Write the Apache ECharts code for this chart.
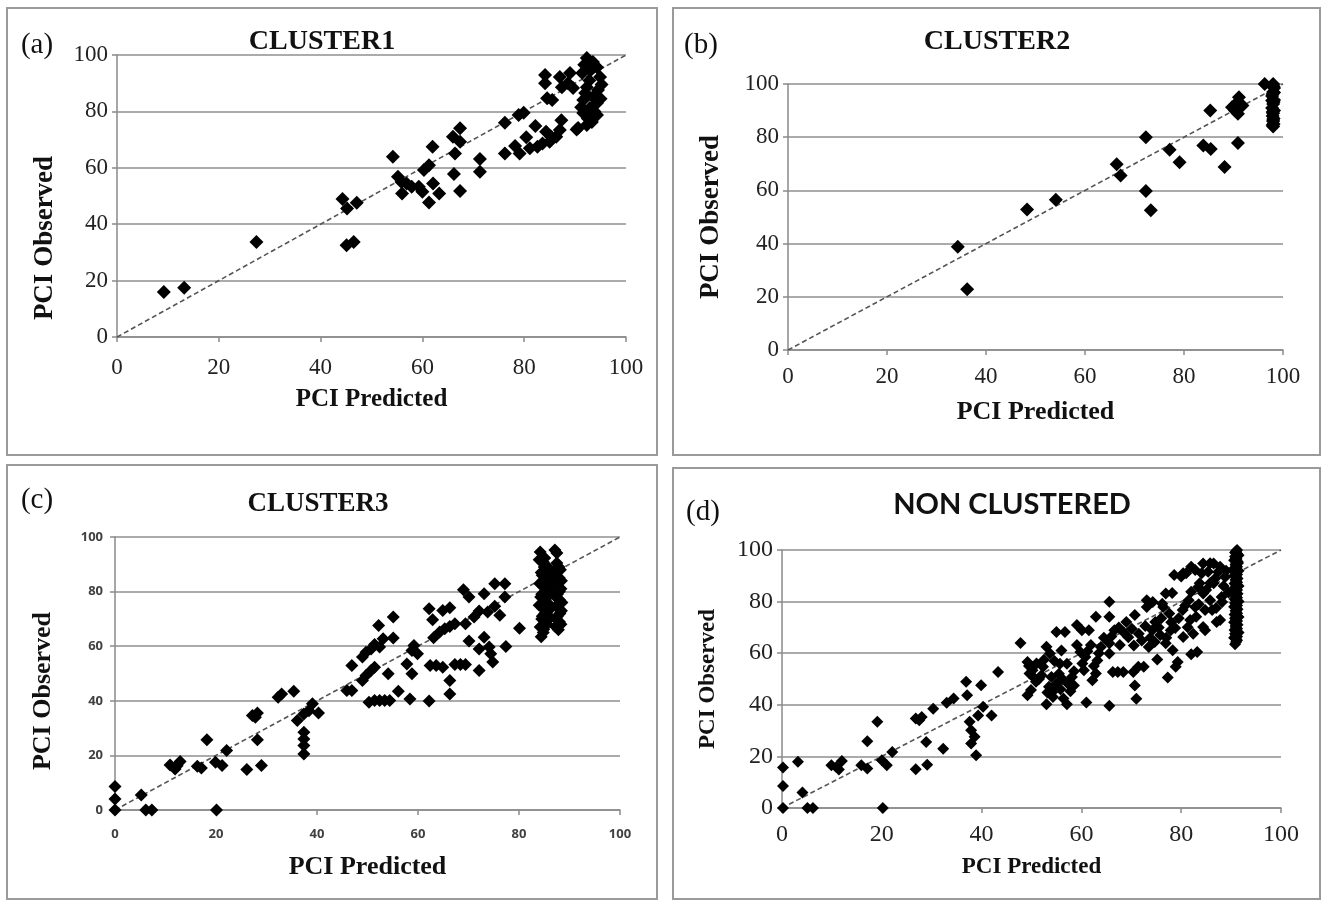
<!DOCTYPE html>
<html>
<head>
<meta charset="utf-8">
<script src="https://cdn.jsdelivr.net/npm/echarts@6/dist/echarts.min.js"></script>
<style>
html,body{margin:0;padding:0;background:#fff;}
#chart{width:1325px;height:902px;}
</style>
</head>
<body>
<div id="chart"></div>
<script>
// ---------------- data (PCI Predicted, PCI Observed) ----------------
const panelLabels = ['(a)', '(b)', '(c)', '(d)'];
const panelTitles = ['CLUSTER1', 'CLUSTER2', 'CLUSTER3', 'NON CLUSTERED'];
const xAxisName = 'PCI Predicted';
const yAxisName = 'PCI Observed';
const axisMin = 0, axisMax = 100, axisStep = 20;
const refLine = [[0, 0], [100, 100]];

const cluster1 = [
 [9.2,16.0],[13.2,17.5],[27.4,33.7],[44.3,48.9],[45.2,45.6],[47.1,47.6],[45.1,32.5],[46.5,33.7],
 [54.2,63.9],[55.2,56.8],[55.9,55.0],[56.0,50.9],[56.9,54.4],[57.9,53.3],[59.3,53.3],[60.0,51.5],
 [60.3,59.2],[61.3,60.9],[61.3,47.7],[62.1,54.4],[63.3,50.9],[62.0,67.5],
 [66.0,71.0],[66.4,65.1],[66.2,57.8],[67.4,74.0],[67.4,69.2],[67.4,51.8],[71.3,63.1],[71.3,58.6],
 [76.2,76.0],[76.2,65.1],[78.9,78.7],[79.9,79.5],[78.2,67.7],[79.1,65.1],[80.4,70.8],[81.1,66.9],
 [82.2,74.8],[82.6,67.5],[83.6,68.6],[84.3,72.8],[85.0,69.2],[85.3,71.0],[86.3,71.0],[87.0,73.4],
 [87.3,76.9],[90.3,73.6],
 [84.1,92.9],[84.1,90.0],[84.5,84.7],[85.5,84.0],[87.0,92.2],[87.4,88.6],[89.0,93.6],[88.6,90.0],[89.6,88.3],
 [92.3,98.9],[93.5,97.5],[94.3,95.7],[94.9,92.2],[91.4,93.6],[92.3,88.6],[94.5,87.6],[91.6,84.0],
 [94.3,83.0],[91.6,79.4],[94.3,78.7],[92.3,75.2],[93.3,76.2],[90.6,74.1],[92.9,81.2],[93.5,85.1],
 [92.8,91.0],[93.0,94.5],[91.8,96.5],[95.2,89.5],[92.0,86.5],[93.8,80.0],[92.5,77.5],[91.2,81.5],[95.0,84.5]
];

const cluster2 = [
 [34.3,38.8],[36.2,22.8],[48.3,52.8],[54.1,56.5],[66.4,69.8],[67.2,65.6],[72.3,80.0],[72.3,59.8],
 [73.3,52.5],[77.1,75.3],[79.1,70.6],[83.9,76.9],[85.4,75.6],[85.3,90.0],[88.2,68.8],[90.9,77.8],
 [89.7,91.3],[90.8,93.1],[91.1,95.0],[90.9,88.8],[91.8,91.9],[90.3,90.0],[96.3,100],
 [98.0,100],[98.2,98.5],[98.0,97.0],[97.8,95.5],[98.2,94.0],[98.0,92.5],[97.8,91.0],[98.2,90.0],
 [98.0,89.0],[97.9,88.0],[98.1,87.0],[98.0,86.0],[98.1,85.0],[98.0,84.0],
 [98.1,99.2],[97.9,96.2],[98.1,93.2],[97.9,89.5],[98.0,86.5],[97.9,84.6],[98.2,96.8],[97.8,93.8]
];

const cluster3 = [
 [0,8.6],[0,4.0],[0,0],[5.2,5.5],[6.1,0],[7.3,0],
 [10.9,16.5],[11.9,15.0],[12.9,17.8],[12.3,16.2],[16.3,16.0],[17.1,15.4],[18.2,25.7],[20.1,0],
 [19.9,17.5],[21.2,16.3],[22.1,21.8],
 [26.1,14.8],[27.2,34.6],[28.2,35.5],[27.8,34.0],[28.2,25.7],[29.0,16.3],
 [32.3,41.3],[33.0,42.5],[35.4,43.5],[36.1,32.8],[37.4,35.2],[37.4,28.5],[37.4,26.0],[37.4,23.6],
 [37.4,20.5],[38.4,36.4],[39.1,38.9],[40.3,35.5],
 [45.9,43.8],[46.9,43.8],[46.9,52.9],[49.0,56.0],[49.7,57.8],[50.7,59.0],[51.4,60.6],[52.2,67.6],
 [52.4,59.7],[53.1,62.7],[55.1,70.7],[55.1,63.0],
 [49.0,47.4],[49.7,49.3],[50.7,51.1],[51.4,52.3],[50.3,39.5],[51.4,40.1],[52.4,40.1],[53.4,40.1],
 [54.4,40.1],[54.1,49.9],[56.1,43.5],[58.4,40.7],
 [57.8,53.5],[58.8,58.4],[58.8,49.9],[59.2,60.3],[59.9,57.2],[62.2,73.7],[62.9,69.7],[63.1,63.1],
 [62.2,39.9],[62.4,52.9],[63.6,52.9],[64.9,52.3],[64.9,73.1],[66.3,74.1],[64.3,65.2],[65.3,66.4],
 [66.3,67.2],[67.3,68.2],[66.3,47.4],[66.3,42.5],[67.3,53.3],[68.4,53.3],[69.4,53.3],
 [69.0,80.7],[70.1,78.0],[69.4,68.2],[70.1,61.9],[71.1,70.7],[72.1,72.9],[72.1,59.0],[72.1,51.1],
 [73.1,79.2],[73.1,63.3],[73.8,72.5],[74.1,59.7],[74.4,57.2],[74.8,54.2],[75.2,82.9],[75.2,74.6],
 [76.2,71.3],[77.2,82.9],[77.2,78.0],[77.4,59.9],[80.1,66.6],
 [84.2,94.5],[85.1,92.3],[87.1,95.2],[87.5,94.1],[84.8,90.8],[84.0,91.7],
 [84.4,87.0],[85.6,85.0],[84.1,83.0],[85.9,81.0],[84.5,79.0],[85.2,77.0],[84.0,75.0],[85.8,73.0],
 [84.6,71.0],[85.3,69.0],[84.2,67.0],[84.8,65.0],[84.4,63.5],[86.0,88.5],
 [87.5,90.5],[88.2,88.0],[87.2,86.0],[88.4,84.0],[87.6,82.0],[88.0,80.0],[87.3,78.0],[88.5,76.0],
 [87.7,74.0],[88.1,72.0],[87.4,70.0],[88.3,68.0],[87.8,66.0],
 [85.0,89.0],[84.6,86.0],[85.4,84.0],[84.8,82.0],[85.5,80.0],[84.3,78.0],[85.6,76.0],[84.7,74.0],
 [85.1,72.0],[84.5,70.0],[85.5,68.0],[84.9,66.2],[86.2,84.5],[86.3,79.5],[86.1,74.5],[86.2,70.5],
 [87.9,89.0],[87.4,87.0],[88.0,85.0],[87.3,83.0],[88.3,81.0],[87.6,79.0],[88.0,77.0],[87.5,75.0],
 [88.4,73.0],[87.6,71.0],[88.0,69.0],[87.2,67.2]
];

const nonClustered = [
 [0.2,15.7],[0.2,8.5],[0.2,0],[3.2,17.9],[4.1,6.0],[5.1,0],[6.2,0],
 [9.9,16.6],[10.9,15.9],[11.4,14.9],[12.0,18.2],[15.9,16.6],[17.1,15.3],[17.1,25.9],[19.1,33.4],
 [20.2,0],[20.0,18.5],[21.0,16.6],[22.1,21.7],
 [26.8,15.0],[26.8,34.7],[28.0,35.3],[27.5,34.0],[28.9,25.6],[29.1,16.8],[30.3,38.5],[32.3,23.0],
 [33.0,40.8],[34.4,42.4],
 [36.9,48.9],[37.1,43.7],[37.6,33.4],[37.9,30.1],[37.9,25.0],[38.9,20.4],[38.6,27.6],[39.3,35.9],
 [39.9,47.6],[40.3,39.2],[42.0,35.9],[43.3,52.7],
 [47.8,64.0],[49.2,56.6],[49.6,52.1],[49.2,43.7],[49.9,45.7],[50.2,53.4],[50.9,48.9],[52.3,54.7],
 [53.0,62.5],[53.0,40.2],[53.7,59.9],[54.0,50.8],[54.3,43.0],[55.0,68.2],[55.0,48.2],[55.7,55.9],
 [56.4,42.4],[56.7,68.2],[57.1,55.9],[57.1,40.2],[57.8,45.3],[58.1,50.8],
 [51.5,50.0],[52.5,57.5],[53.5,47.0],[55.5,52.0],[56.0,61.0],[58.5,47.5],[54.5,45.5],
 [49.5,55.0],[50.5,50.5],[51.0,56.0],[52.0,51.5],[53.2,44.8],[54.6,57.0],[55.8,46.0],[56.2,50.0],
 [57.4,48.0],[58.5,53.0],[59.8,60.5],[60.2,56.0],[61.2,60.8],[62.5,55.0],[63.5,60.0],[64.5,66.0],
 [59.1,63.2],[59.1,70.9],[60.1,68.9],[60.5,53.4],[60.8,58.5],[61.0,40.9],[61.5,68.9],[61.9,63.2],
 [62.2,49.5],[62.9,74.1],[62.9,52.1],[63.2,57.2],[63.9,62.4],
 [65.6,79.9],[65.6,74.1],[65.6,63.9],[65.6,59.9],[65.6,39.6],[66.3,52.7],[66.6,68.9],[67.3,52.7],
 [67.7,63.2],[68.4,52.7],[69.0,72.1],[69.4,66.2],[70.1,69.5],[70.4,52.7],[70.7,74.8],[70.7,47.5],
 [71.0,42.3],[71.4,54.7],[72.1,64.9],[72.5,54.7],[73.1,80.5],[73.1,77.9],[73.5,62.4],[74.2,68.9],
 [74.8,72.1],[75.2,57.6],
 [66.0,66.5],[67.5,70.0],[68.5,68.0],[70.5,63.0],[71.5,67.5],[72.8,70.5],[73.8,66.0],[75.5,70.0],
 [76.0,73.5],[77.0,66.0],[78.0,72.0],[79.5,73.5],[80.8,78.5],[81.5,80.5],[83.5,79.0],[85.0,84.5],
 [86.8,89.0],[88.5,86.0],[89.0,92.0],[87.0,77.5],[89.5,83.5],
 [76.2,79.2],[76.9,83.1],[76.9,63.9],[77.3,50.6],[77.6,75.4],[77.9,68.9],[78.3,61.1],[78.6,90.3],
 [78.9,54.7],[79.3,56.6],[80.0,89.7],[80.3,76.7],[81.0,91.0],[81.3,70.1],[82.0,93.5],[82.0,83.8],
 [82.0,59.6],[82.4,67.5],[83.0,74.1],[83.7,87.1],[84.1,91.0],[84.4,94.8],[84.4,83.1],[84.8,76.7],
 [84.8,68.9],[85.4,91.6],[85.8,80.5],[86.5,94.8],[86.5,87.1],[87.1,72.1],[87.8,93.5],[88.1,81.8],
 [85.8,94.9],[82.8,92.2],[80.4,91.0],[87.4,91.5],[88.8,89.5],[85.8,87.2],[83.4,85.7],[78.2,83.3],
 [88.2,79.8],[82.8,77.9],[86.2,76.7],[74.3,79.8],[76.4,77.9],[87.8,72.9],[81.8,72.9],[84.4,70.2],
 [78.8,69.8],[75.8,67.1],[83.2,60.5],[74.7,64.3],[80.4,66.3],
 [91.2,100],[90.8,99],[91.5,98],[91.0,97],[90.6,96],[91.4,95],[91.0,94],[90.7,93],[91.5,92],
 [91.0,91],[90.6,90],[91.3,89],[91.0,88],[90.7,87],[91.5,86],[91.0,85],[90.6,84],[91.3,83],
 [91.0,82],[90.7,81],[91.5,80],[91.0,79],[90.6,78],[91.3,77],[91.0,76],[90.7,75],[91.5,74],
 [91.0,73],[90.6,72],[91.3,71],[91.0,70],[90.7,69],[91.5,68],[91.0,67],[90.6,66],[91.2,65],[90.8,63.5],
 [91.0,99.5],[91.2,98.5],[90.8,97.5],[91.1,96.5],[91.3,95.5],[90.9,94.5],[91.2,93.5],[91.0,92.5],
 [90.8,91.5],[91.2,90.5],[91.0,89.5],[90.9,88.5],[91.2,87.5],[91.0,86.5],[90.8,85.5],[91.2,84.5],
 [91.0,83.5],[90.9,82.5],[91.2,81.5],[91.0,80.5],[90.8,79.5],[91.2,78.5],[91.0,77.5],[90.9,76.5],
 [91.2,75.5],[91.0,74.5],[90.8,73.5],[91.2,72.5],[91.0,71.5],[90.9,70.5],[91.2,69.5],[91.0,68.5],
 [90.8,67.5],[91.2,66.5],[91.0,65.5],[91.0,64.3]
];

const panelData = [cluster1, cluster2, cluster3, nonClustered];

// ---------------- layout & styling ----------------
const grids = [
  {left: 117, top: 55,  width: 509, height: 282},
  {left: 788, top: 84,  width: 495, height: 266},
  {left: 115, top: 537, width: 505, height: 273},
  {left: 782, top: 550, width: 499, height: 258}
];
const boxes = [
  [7, 8, 650, 447], [673, 8, 647, 447], [7, 465, 650, 434], [673, 468, 647, 431]
];
const symbolSizes = [14, 14, 13, 12];
const serif = "'Liberation Serif', 'Times New Roman', serif";
const sans = "'Open Sans', 'Noto Sans', sans-serif";
const tickFont = [
  {fontFamily: serif, fontSize: 23, color: '#222'},
  {fontFamily: serif, fontSize: 23, color: '#222'},
  {fontFamily: sans, fontSize: 13, color: '#404040', fontWeight: 'bold'},
  {fontFamily: serif, fontSize: 24, color: '#222'}
];
const xNameFont = [25, 26, 26, 23];
const yNameFont = [27, 27, 26, 23];
const xNameGap = [50, 49, 44, 48];
const yNameGap = [58, 63, 59, 62];
const yNamePad = [[0, 84, 0, 0], [0, 0, 0, 0], [0, 35, 0, 0], [0, 0, 0, 0]];
const xLabelMargin = [19, 15, 18, 15];
const yLabelMargin = [9, 9, 12, 9];

const titlePos = [[322, 42, 28, serif], [997, 42, 28, serif], [318, 504, 27, serif], [1012, 505, 29, "Lato, 'Open Sans', sans-serif"]];
const labelPos = [[37, 45], [701, 45], [37, 500], [703, 512]];

const xAxes = [], yAxes = [], series = [], graphics = [];
for (let i = 0; i < 4; i++) {
  xAxes.push({
    type: 'value', gridIndex: i, min: axisMin, max: axisMax, interval: axisStep,
    name: xAxisName, nameLocation: 'middle', nameGap: xNameGap[i],
    nameTextStyle: {fontFamily: serif, fontWeight: 'bold', fontSize: xNameFont[i], color: '#111'},
    axisLine: {show: true, onZero: false, lineStyle: {color: '#8a8a8a', width: 1.5}},
    axisTick: {show: true, length: 5, lineStyle: {color: '#8a8a8a', width: 1.5}},
    axisLabel: Object.assign({margin: xLabelMargin[i]}, tickFont[i]),
    splitLine: {show: false}
  });
  yAxes.push({
    type: 'value', gridIndex: i, min: axisMin, max: axisMax, interval: axisStep,
    name: yAxisName, nameLocation: 'middle', nameGap: yNameGap[i], nameRotate: 90,
    nameTextStyle: {fontFamily: serif, fontWeight: 'bold', fontSize: yNameFont[i], color: '#111', padding: yNamePad[i]},
    axisLine: {show: true, onZero: false, lineStyle: {color: '#8a8a8a', width: 1.5}},
    axisTick: {show: true, length: 5, lineStyle: {color: '#8a8a8a', width: 1.5}},
    axisLabel: Object.assign({margin: yLabelMargin[i]}, tickFont[i]),
    splitLine: {show: true, lineStyle: {color: '#8f8f8f', width: 1.5}}
  });
  series.push({
    type: 'line', xAxisIndex: i, yAxisIndex: i, data: refLine, symbol: 'none', silent: true,
    lineStyle: {color: '#555', width: 1.6, type: [5, 3]}, z: 1
  });
  series.push({
    type: 'scatter', xAxisIndex: i, yAxisIndex: i, data: panelData[i], symbol: 'diamond',
    symbolSize: symbolSizes[i], itemStyle: {color: '#000', opacity: 1}, clip: false, z: 2
  });
  const b = boxes[i];
  graphics.push({
    type: 'rect', shape: {x: b[0], y: b[1], width: b[2], height: b[3]},
    style: {fill: 'none', stroke: '#9a9a9a', lineWidth: 2}, silent: true
  });
  const t = titlePos[i];
  graphics.push({
    type: 'text', x: t[0], y: t[1],
    style: {text: panelTitles[i], font: 'bold ' + t[2] + 'px ' + t[3], fill: '#111', textAlign: 'center', textVerticalAlign: 'middle'}
  });
  const l = labelPos[i];
  graphics.push({
    type: 'text', x: l[0], y: l[1],
    style: {text: panelLabels[i], font: '29px ' + serif, fill: '#111', textAlign: 'center', textVerticalAlign: 'middle'}
  });
}

const chart = echarts.init(document.getElementById('chart'), null, {renderer: 'canvas'});
chart.setOption({
  backgroundColor: '#fff',
  animation: false,
  grid: grids,
  xAxis: xAxes,
  yAxis: yAxes,
  series: series,
  graphic: graphics
});
</script>
</body>
</html>
